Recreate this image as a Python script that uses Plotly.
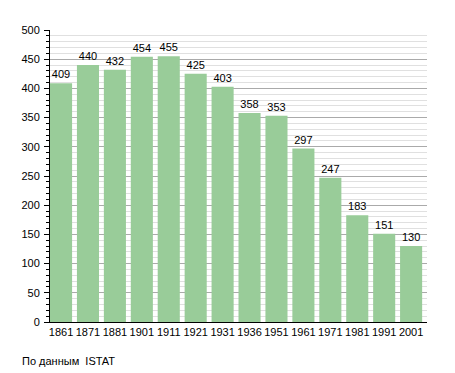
import plotly.graph_objects as go

years = ["1861", "1871", "1881", "1901", "1911", "1921", "1931", "1936", "1951", "1961", "1971", "1981", "1991", "2001"]
population = [409, 440, 432, 454, 455, 425, 403, 358, 353, 297, 247, 183, 151, 130]
y_ticks = [0, 50, 100, 150, 200, 250, 300, 350, 400, 450, 500]
source_note = "По данным  ISTAT"

idx = list(range(len(years)))

fig = go.Figure(
    go.Bar(
        x=idx,
        y=population,
        text=[str(v) for v in population],
        textposition="outside",
        textfont=dict(family="Liberation Sans, Arial, sans-serif", size=11, color="#000000"),
        marker=dict(color="#99cc99", line=dict(width=0)),
        cliponaxis=False,
        hoverinfo="skip",
    )
)

fig.update_layout(
    width=455,
    height=373,
    margin=dict(l=50, r=28, t=30, b=51, autoexpand=False),
    paper_bgcolor="white",
    plot_bgcolor="white",
    bargap=0.18,
    showlegend=False,
    font=dict(family="Liberation Sans, Arial, sans-serif", size=11, color="#000000"),
    annotations=[
        dict(
            text=source_note,
            xref="paper", yref="paper",
            x=-30 / 377, y=-39 / 292,
            xanchor="left", yanchor="middle",
            showarrow=False,
            font=dict(size=11, color="#000000"),
        )
    ],
)

fig.update_xaxes(
    tickmode="array",
    tickvals=idx,
    ticktext=years,
    range=[-0.41, 13.59],
    showline=True,
    linecolor="#000000",
    linewidth=1,
    ticks="",
    showgrid=False,
    zeroline=False,
    automargin=False,
)

fig.update_yaxes(
    range=[0, 500],
    tickmode="array",
    tickvals=y_ticks,
    showline=True,
    linecolor="#000000",
    linewidth=1,
    ticks="outside",
    ticklen=5,
    tickcolor="#000000",
    ticklabelstandoff=2,
    showgrid=True,
    gridcolor="#aaaaaa",
    gridwidth=1,
    zeroline=False,
    automargin=False,
    minor=dict(
        dtick=10,
        ticks="outside",
        ticklen=3,
        tickcolor="#000000",
        showgrid=True,
        gridcolor="#e0e0e0",
        gridwidth=1,
    ),
)

fig.write_html(
    "out.html",
    config={"displayModeBar": False},
    post_script="document.body.style.margin='0';",
)
